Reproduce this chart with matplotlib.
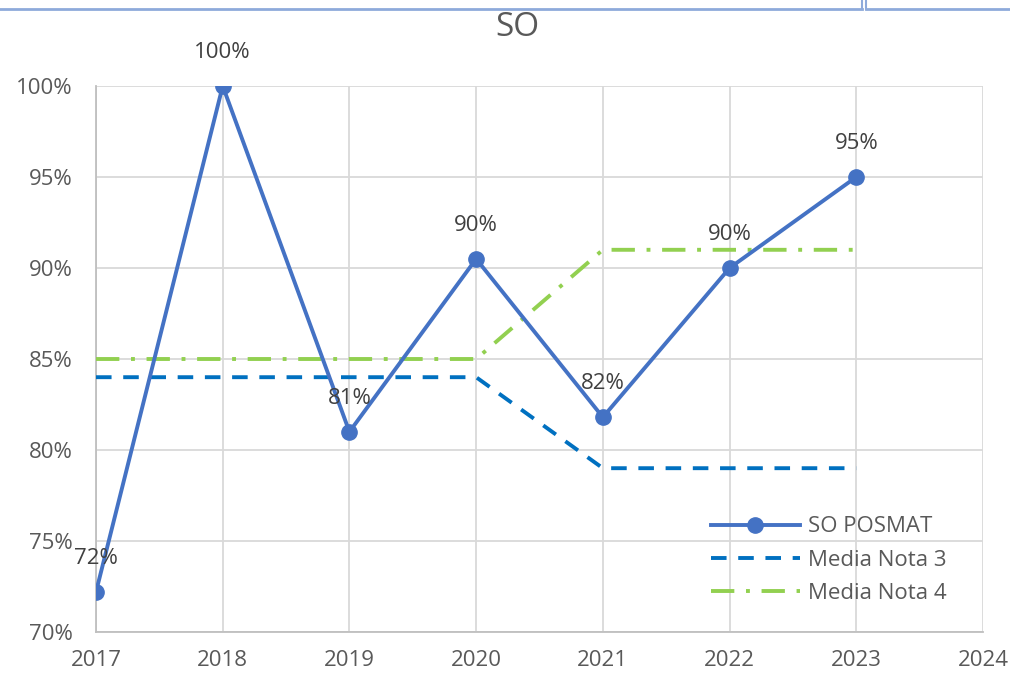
import numpy as np
import matplotlib
matplotlib.use('Agg')
import matplotlib.pyplot as plt
from matplotlib.lines import Line2D

plt.rcParams['font.family'] = ['Open Sans', 'DejaVu Sans']

years = [2017, 2018, 2019, 2020, 2021, 2022, 2023]
so_posmat = [72.2, 100, 81.0, 90.5, 81.8, 90.0, 95.0]
so_labels = ['72%', '100%', '81%', '90%', '82%', '90%', '95%']
media_nota3 = [84, 84, 84, 84, 79, 79, 79]
media_nota4 = [85, 85, 85, 85, 91, 91, 91]

txt = '#595959'
grid = '#d9d9d9'

fig = plt.figure(figsize=(10.1, 6.78), dpi=100)
ax = fig.add_axes([96/1010, 1 - 632/678, (983-96)/1010, (632-86)/678])

ax.plot(years, so_posmat, color='#4472C4', lw=2.8, marker='o', ms=11,
        label='SO POSMAT', zorder=5)
ax.plot(years, media_nota3, color='#0070C0', lw=2.8, ls=(0, (4, 3)),
        label='Media Nota 3', zorder=4)
ax.plot(years, media_nota4, color='#92D050', lw=2.8, ls=(0, (6, 3, 1, 3)),
        label='Media Nota 4', zorder=4)

for x, y, s in zip(years, so_posmat, so_labels):
    ax.annotate(s, (x, y), xytext=(0, 24), textcoords='offset points',
                ha='center', va='center', fontsize=16, color='#404040', zorder=6)

ax.set_xlim(2017, 2024)
ax.set_ylim(70, 100)
ax.set_xticks(range(2017, 2025))
ax.set_yticks(range(70, 101, 5))
ax.set_yticklabels([f'{v}%' for v in range(70, 101, 5)])
ax.tick_params(length=0, labelsize=16, labelcolor=txt)
ax.tick_params(axis='x', pad=13)
ax.tick_params(axis='y', pad=17)
ax.grid(True, color=grid, lw=1.3)
ax.set_axisbelow(True)
for sp in ['top', 'right']:
    ax.spines[sp].set_visible(False)
for sp in ['left', 'bottom']:
    ax.spines[sp].set_color('#bfbfbf')
    ax.spines[sp].set_linewidth(1.3)

fig.text(517/1010, 1 - 28/678, 'SO', fontsize=24, color=txt, ha='center', va='center')

leg = ax.legend(loc='lower right', bbox_to_anchor=(0.982, 0.015), frameon=False,
                fontsize=16, labelcolor=txt, handlelength=4.0, handletextpad=0.4,
                labelspacing=0.55)

# window border remnants at top
fig.add_artist(Line2D([0, 862/1010], [1 - 9/678, 1 - 9/678], color='#8eaadb', lw=2))
fig.add_artist(Line2D([862/1010, 862/1010], [1, 1 - 9/678], color='#8eaadb', lw=1.5))
fig.add_artist(Line2D([866/1010, 1], [1 - 9/678, 1 - 9/678], color='#8eaadb', lw=2))
fig.add_artist(Line2D([866/1010, 866/1010], [1, 1 - 9/678], color='#8eaadb', lw=1.5))

fig.savefig('out.png', dpi=100)
